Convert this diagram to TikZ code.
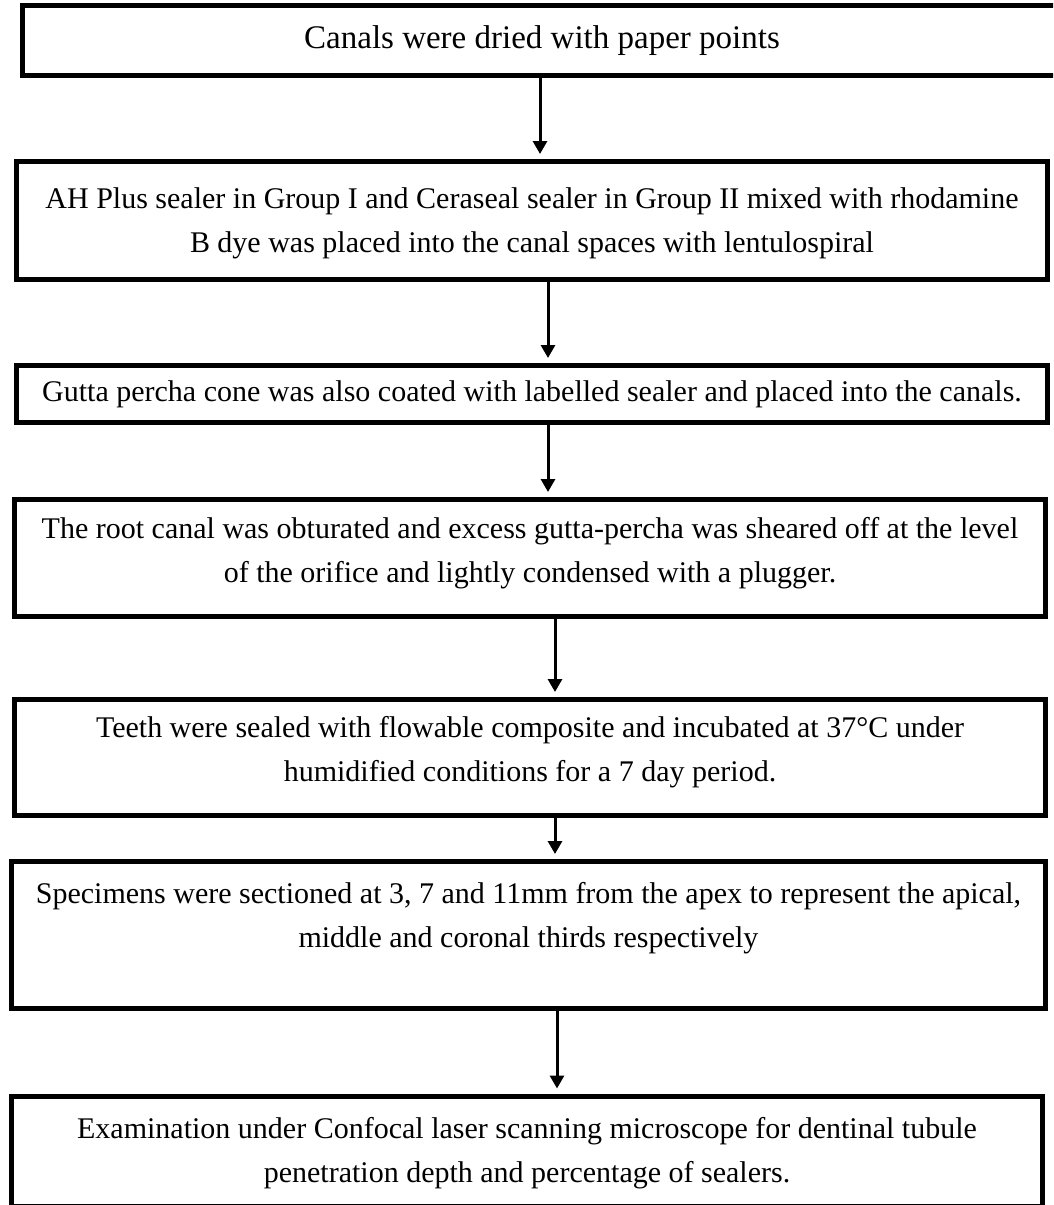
\documentclass[tikz,border=0pt]{standalone}
\usepackage{fontspec}
\setmainfont{Liberation Serif}
\usepackage{tikz}
\usetikzlibrary{arrows.meta}
\usetikzlibrary{positioning}
\tikzset{auto,>={Triangle[length=13pt,width=14pt]}, font=\fontsize{30}{44}\selectfont}
\tikzstyle{block} = [draw, line width=5pt, fill=white, rectangle, inner xsep=2pt, inner ysep=0pt, text centered, align=center]
\tikzstyle{flow} = [->, line width=3pt, shorten >=5pt]

\begin{document}
\begin{tikzpicture}[x=1pt,y=-1pt]
		\clip (0,0) rectangle (1053,1205);
		\fill [white] (0,0) rectangle (1053,1205);

		\node [block, minimum width=1040pt, minimum height=70pt, font=\fontsize{33}{44}\selectfont] (dry) at (542,40.5) {Canals were dried with paper points};
		\node [block, minimum width=1031pt, minimum height=118pt, text depth=0pt] (seal) at (532,220.5) {AH Plus sealer in Group I and Ceraseal sealer in Group II mixed with rhodamine\\B dye was placed into the canal spaces with lentulospiral};
		\node [block, minimum width=1031pt, minimum height=57pt] (cone) at (532,394) {Gutta percha cone was also coated with labelled sealer and placed into the canals.};
		\node [block, minimum width=1031pt, minimum height=117pt, text depth=16.5pt] (obturate) at (530,558) {The root canal was obturated and excess gutta-percha was sheared off at the level\\of the orifice and lightly condensed with a plugger.};
		\node [block, minimum width=1031pt, minimum height=116pt, text depth=16.5pt] (incubate) at (530,757.5) {Teeth were sealed with flowable composite and incubated at 37\textdegree C under\\humidified conditions for a 7 day period.};
		\node [block, minimum width=1034pt, minimum height=147pt, text depth=40.5pt] (section) at (528.5,935) {Specimens were sectioned at 3, 7 and 11mm from the apex to represent the apical,\\middle and coronal thirds respectively};
		\node [block, minimum width=1031pt, minimum height=110pt, text depth=2.5pt] (exam) at (527,1151) {Examination under Confocal laser scanning microscope for dentinal tubule\\penetration depth and percentage of sealers.};

		\draw [flow] ([xshift=-2pt]dry.south) -- ([xshift=-2pt]dry.south |- seal.north);
		\draw [flow] ([xshift=16pt]seal.south) -- ([xshift=16pt]seal.south |- cone.north);
		\draw [flow] ([xshift=16pt]cone.south) -- ([xshift=16pt]cone.south |- obturate.north);
		\draw [flow] ([xshift=25pt]obturate.south) -- ([xshift=25pt]obturate.south |- incubate.north);
		\draw [flow] ([xshift=25pt]incubate.south) -- ([xshift=25pt]incubate.south |- section.north);
		\draw [flow] ([xshift=28.5pt]section.south) -- ([xshift=28.5pt]section.south |- exam.north);
	\end{tikzpicture}
\end{document}
